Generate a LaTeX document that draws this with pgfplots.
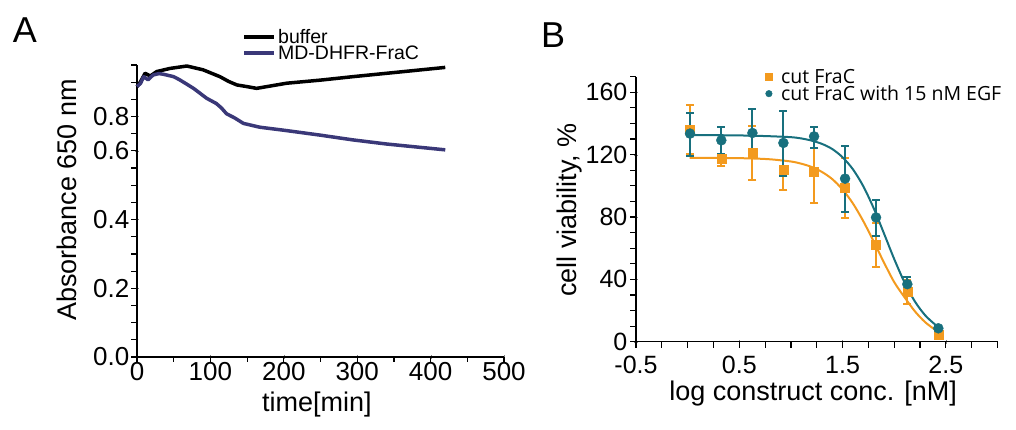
\documentclass[border=0pt]{standalone}
\usepackage{fontspec}
\setmainfont{Liberation Sans}
\newfontfamily\legfont{Open Sans}
\usepackage{pgfplots}
\pgfplotsset{compat=1.18}
\definecolor{navy}{HTML}{3A3878}
\definecolor{fracor}{HTML}{F39A1E}
\definecolor{egfteal}{HTML}{18707E}

\tikzset{tk/.style={black, line width=1.2pt}}
\pgfplotsset{
  panel/.style={
    scale only axis,
    axis lines=left,
    axis line style={-, line width=1.4pt},
    /pgf/number format/assume math mode=true,
    tick label style={font=\fontsize{26}{28}\selectfont},
    label style={font=\fontsize{27}{30}\selectfont},
    clip=false,
  },
}

\begin{document}
\begin{tikzpicture}
\path[use as bounding box] (0,0) rectangle (1016pt,430pt);

\node[font=\fontsize{36}{40}\selectfont] at (25pt,400pt) {A};
\node[font=\fontsize{36}{40}\selectfont] at (553pt,395pt) {B};

% panel A
\begin{axis}[panel,
  at={(137pt,73pt)}, anchor=south west,
  width=367pt, height=292pt,
  xmin=0, xmax=500, ymin=0, ymax=0.85,
  xtick={0,100,200,300,400,500},
  ytick={0,0.2,0.4,0.6,0.7},
  yticklabels={0.0,0.2,0.4,0.6,0.8},
  yticklabel style={xshift=-2pt},
  xlabel={time[min]},
  ylabel={Absorbance 650 nm},
  xlabel style={at={(axis description cs:0.49,-0.164)}, anchor=center},
  ylabel style={at={(axis description cs:-0.19,0.538)}, anchor=center},
  legend style={at={(axis description cs:0.286,1.127)}, anchor=north west,
    draw=none, fill=none, font=\fontsize{19.5}{20}\selectfont,
    row sep=-1pt, inner sep=0pt, nodes={inner ysep=1pt, inner xsep=2pt}},
  legend cell align=left,
  legend image code/.code={\draw[#1, line width=4pt] (0pt,0pt) -- (30pt,0pt);},
]
% tick marks
\pgfplotsinvokeforeach{0,50,100,150,200,250,300,350,400,450,500}{
  \draw[tk] (axis cs:#1,0) -- ++(0pt,-5pt);}
\pgfplotsinvokeforeach{0,0.05,0.1,0.15,0.2,0.25,0.3,0.35,0.4,0.45,0.5,0.55,0.6,0.65,0.7,0.75,0.8,0.85}{
  \draw[tk] (axis cs:0,#1) -- ++(-6pt,0pt);}
\addplot[black, line width=3.5pt, line join=round] coordinates {
  (0,0.787) (5,0.802) (11,0.826) (18,0.818) (27,0.831) (45,0.840)
  (68,0.847) (90,0.836) (113,0.816) (125,0.802) (136,0.792) (150,0.787)
  (163,0.782) (204,0.797) (250,0.806) (294,0.816) (350,0.828) (420,0.843)
};
\addlegendentry{buffer}
\addplot[navy, line width=3.5pt, line join=round] coordinates {
  (0,0.787) (5,0.797) (9,0.816) (15,0.807) (22,0.821) (30,0.825)
  (36,0.823) (50,0.816) (58,0.807) (68,0.794) (77,0.782) (95,0.753)
  (108,0.738) (115,0.725) (122,0.708) (133,0.696) (145,0.680) (167,0.669)
  (204,0.659) (249,0.646) (294,0.632) (340,0.620) (420,0.603)
};
\addlegendentry{MD-DHFR-FraC}
\end{axis}

% panel B
\begin{axis}[panel,
  at={(636pt,88.3pt)}, anchor=south west,
  width=361.5pt, height=265pt,
  xmin=-0.5, xmax=3.0, ymin=0, ymax=170,
  xtick={-0.5,0.5,1.5,2.5},
  xticklabels={-0.5,0.5,1.5,2.5},
  ytick={0,40,80,120,160},
  tick label style={font=\fontsize{25}{28}\selectfont},
  xticklabel style={yshift=-9pt},
  yticklabel style={xshift=-3pt},
  xlabel={log construct conc. [nM]},
  ylabel={cell viability, \%},
  xlabel style={at={(axis description cs:0.49,-0.194)}, anchor=center},
  ylabel style={at={(axis description cs:-0.183,0.497)}, anchor=center},
  legend style={at={(axis description cs:0.358,1.034)}, anchor=north west,
    draw=none, fill=none, font=\legfont\fontsize{19.5}{20}\selectfont,
    row sep=-1pt, inner sep=0pt, nodes={inner sep=1pt}},
  legend cell align=left,
]
% tick marks
\pgfplotsinvokeforeach{-0.5,-0.25,0,0.25,0.5,0.75,1,1.25,1.5,1.75,2,2.25,2.5,2.75,3}{
  \draw[tk] (axis cs:#1,0) -- ++(0pt,-6pt);}
\pgfplotsinvokeforeach{0,10,20,30,40,50,60,70,80,90,100,110,120,130,140,150,160,170}{
  \draw[tk] (axis cs:-0.5,#1) -- ++(-6pt,0pt);}
\addplot[fracor, line width=2pt, smooth, forget plot] coordinates {
  (0.02,118.0) (0.2,117.9) (0.4,117.8) (0.6,117.6) (0.8,117.0) (1.0,115.6)
  (1.1,114.2) (1.2,112.1) (1.3,108.9) (1.4,104.3) (1.5,97.6) (1.6,88.7)
  (1.7,77.4) (1.8,64.4) (1.9,50.9) (2.0,38.2) (2.1,28.5) (2.2,19.5)
  (2.3,12.5) (2.4,7.5) (2.46,5.5)
};
\addplot[fracor, only marks, mark=square*, mark size=4.5pt,
  legend image code/.code={\draw[fracor, mark=square*, mark size=3.3pt] plot coordinates {(4pt,0pt)}; \path (15pt,0pt);},
  error bars/.cd, y dir=both, y explicit,
  error bar style={fracor, line width=2pt},
  error mark options={rotate=90, fracor, line width=2pt, mark size=4pt}]
  coordinates {
  (0.023,136.1) += (0,16.0) -= (0,16.0)
  (0.326,117.4) += (0,2.6) -= (0,4.5)
  (0.627,121.1) += (0,17.1) -= (0,17.2)
  (0.927,110.3) += (0,16.1) -= (0,12.8)
  (1.224,109.3) += (0,22.4) -= (0,20.4)
  (1.524,98.6) += (0,19.3) -= (0,19.3)
  (1.824,62.1) += (0,14.0) -= (0,13.9)
  (2.127,32.1) += (0,7.6) -= (0,7.9)
  (2.427,4.3) += (0,1.5) -= (0,1.5)
};
\addlegendentry{cut FraC}
\addplot[egfteal, line width=2pt, smooth, forget plot] coordinates {
  (0.02,132.5) (0.2,132.5) (0.4,132.4) (0.6,132.2) (0.8,131.8) (1.0,131.2)
  (1.1,130.4) (1.2,129.0) (1.3,126.9) (1.4,123.6) (1.5,118.3) (1.6,110.6)
  (1.7,99.8) (1.8,85.8) (1.9,69.6) (2.0,53.0) (2.1,38.0) (2.2,25.8)
  (2.3,16.9) (2.4,10.8) (2.46,8.2)
};
\addplot[egfteal, only marks, mark=*, mark size=5pt,
  legend image code/.code={\draw[egfteal, mark=*, mark size=3.3pt] plot coordinates {(4pt,0pt)}; \path (15pt,0pt);},
  error bars/.cd, y dir=both, y explicit,
  error bar style={egfteal, line width=2pt},
  error mark options={rotate=90, egfteal, line width=2pt, mark size=4pt}]
  coordinates {
  (0.023,133.5) += (0,13.3) -= (0,14.2)
  (0.326,129.2) += (0,8.6) -= (0,8.6)
  (0.627,133.9) += (0,15.5) -= (0,14.0)
  (0.927,127.5) += (0,20.3) -= (0,21.0)
  (1.224,131.7) += (0,6.1) -= (0,7.4)
  (1.524,104.6) += (0,21.2) -= (0,21.1)
  (1.824,79.7) += (0,10.9) -= (0,12.2)
  (2.127,36.9) += (0,4.9) -= (0,4.8)
  (2.427,8.6) += (0,1.5) -= (0,1.5)
};
\addlegendentry{cut FraC with 15 nM EGF}
\end{axis}
\end{tikzpicture}
\end{document}
